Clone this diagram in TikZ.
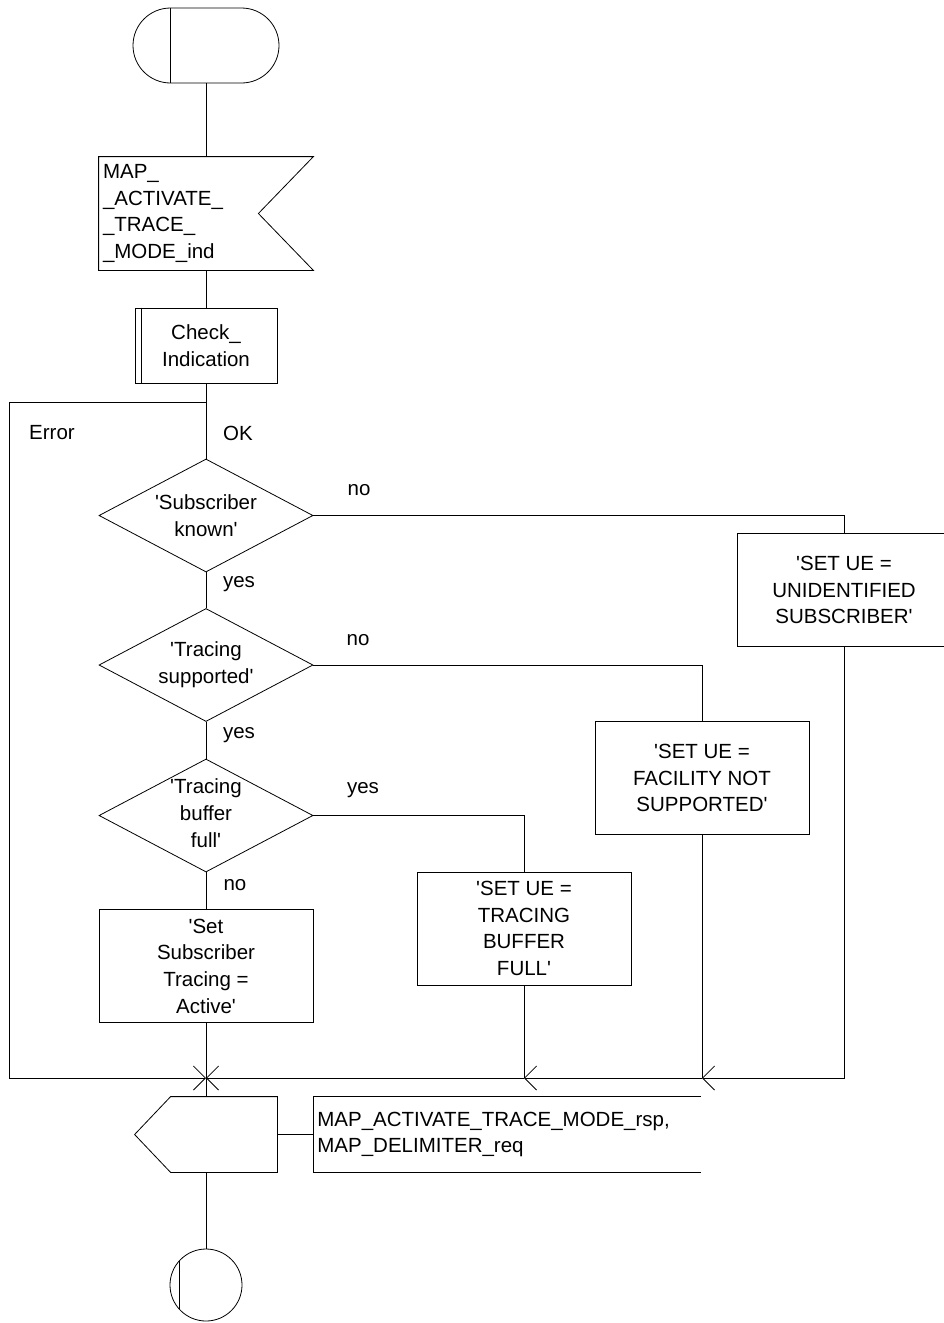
\documentclass[tikz,border=0pt]{standalone}
\usepackage{fontspec}
\setmainfont{Liberation Sans}[Ligatures=TeXOff]
\usetikzlibrary{arrows.meta,calc,shapes.geometric}

\begin{document}
\begin{tikzpicture}[x=1pt,y=-1pt,line width=0.8pt,
  every node/.style={font=\fontsize{20.5}{26.7}\selectfont},
  box/.style={draw,minimum width=214pt,minimum height=113pt,inner sep=0pt,align=center},
  decision/.style={draw,diamond,minimum width=214pt,minimum height=113pt,inner sep=0pt},
  tag/.style={inner sep=0pt,align=center},
  merge/.style={-{Straight Barb[length=12pt,width=24pt,line width=0.8pt]}}]
  \useasboundingbox (0,0) rectangle (944,1323);
  \clip (0,0) rectangle (944,1323);

  % start
  \node[draw,rounded corners=37.5pt,minimum width=146pt,minimum height=75pt,inner sep=0pt] (start) at (206,45.5) {};
  \draw ([xshift=37.5pt]start.north west) -- ([xshift=37.5pt]start.south west);

  % input signal
  \node[minimum width=214pt,minimum height=113pt,inner xsep=4pt,text width=206pt,align=left] (ind) at (206,213.5)
    {MAP\_\\\_ACTIVATE\_\\\_TRACE\_\\\_MODE\_ind};
  \draw (ind.north west) -- (ind.north east) -- ([xshift=-55pt]ind.east) -- (ind.south east) -- (ind.south west) -- cycle;

  % procedure call
  \node[box,minimum width=142pt,minimum height=75pt] (chk) at (206,345.5) {Check\_\\Indication};
  \draw ([xshift=7pt]chk.north west) -- ([xshift=7pt]chk.south west);

  \coordinate (split) at (206,402);
  \coordinate (errc) at (9,402);
  \coordinate (m1) at (206,1078);
  \coordinate (m2) at (524,1078);
  \coordinate (m3) at (702,1078);

  % decisions
  \node[decision] (q1) at (206,515.5) {};
  \node[tag] (t1) at (q1) {'Subscriber\\known'};
  \node[decision] (q2) at (206,665) {};
  \node[tag] (t2) at (q2) {'Tracing\\supported'};
  \node[decision] (q3) at (206,815.5) {};
  \node[tag] (t3) at (206,813) {'Tracing\\buffer\\full'};

  % tasks
  \node[box] (ueunk) at (844,590) {'SET UE =\\UNIDENTIFIED\\SUBSCRIBER'};
  \node[box] (uefac) at (702,778) {'SET UE =\\FACILITY NOT\\SUPPORTED'};
  \node[box] (uebuf) at (524,928.5) {'SET UE =\\TRACING\\BUFFER\\FULL'};
  \node[box] (settr) at (206,966) {'Set\\Subscriber\\Tracing =\\Active'};

  % output and comment
  \node[minimum width=142pt,minimum height=75pt,inner sep=0pt] (rsp) at (206,1134.5) {};
  \draw (rsp.west) -- ([xshift=36pt]rsp.north west) -- (rsp.north east) -- (rsp.south east) -- ([xshift=36pt]rsp.south west) -- cycle;
  \node[anchor=west,minimum height=75pt,text width=379pt,inner xsep=4pt,align=left] (cmt) at (313,1134.5)
    {MAP\_ACTIVATE\_TRACE\_MODE\_rsp,\\MAP\_DELIMITER\_req};
  \draw (cmt.north east) -- (cmt.north west) -- (cmt.south west) -- (cmt.south east);

  % stop
  \node[draw,circle,minimum size=72pt,inner sep=0pt] (stop) at (206,1285) {};
  \draw ($(stop.center)+(-27,-23.8)$) -- ($(stop.center)+(-27,23.8)$);

  % flow lines
  \draw (start) -- (ind);
  \draw (ind) -- (chk);
  \draw (chk) -- (q1);
  \draw[merge] (split) -- (errc) |- (m1);
  \draw (q1) -- (q2);
  \draw (q2) -- (q3);
  \draw (q3) -- (settr);
  \draw (settr) -- (m1);
  \draw (q1.east) -| (ueunk.north);
  \draw (q2.east) -| (uefac.north);
  \draw (q3.east) -| (uebuf.north);
  \draw[merge] (ueunk) |- (m3);
  \draw (uefac) -- (m3);
  \draw[merge] (m3) -- (m2);
  \draw (uebuf) -- (m2);
  \draw[merge] (m2) -- (m1);
  \draw (m1) -- (rsp);
  \draw (rsp.east) -- (cmt.west);
  \draw (rsp) -- (stop);

  % labels
  \node[tag] (lerr) at (52,433) {Error};
  \node[tag] (lok) at (238,433) {OK};
  \node[tag] (lno1) at (359,490) {no};
  \node[tag] (lyes1) at (239,584) {yes};
  \node[tag] (lno2) at (358,640) {no};
  \node[tag] (lyes2) at (239,735) {yes};
  \node[tag] (lyes3) at (363,790) {yes};
  \node[tag] (lno3) at (235,885) {no};
\end{tikzpicture}
\end{document}
